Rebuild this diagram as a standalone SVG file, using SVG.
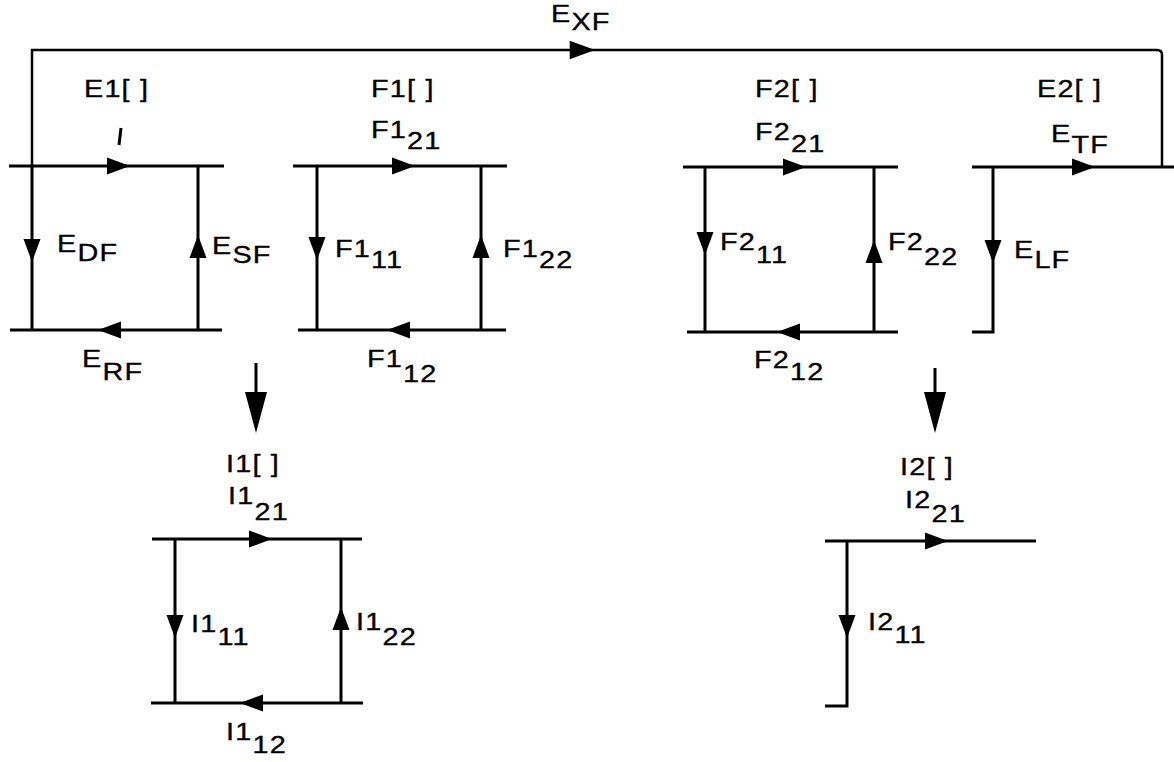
<svg xmlns="http://www.w3.org/2000/svg" xmlns:xlink="http://www.w3.org/1999/xlink" width="1174" height="762" viewBox="0 0 1174 762">
<style>
  .ln { fill: none; stroke: #000; stroke-width: 3; stroke-linecap: butt; stroke-linejoin: miter; }
  .lbl { font-family: "Liberation Sans", Arial, sans-serif; font-size: 24px; fill: #000; stroke: #000; stroke-width: 0.35; letter-spacing: 1px; }
  .ah { fill: #000; }
</style>
<defs>
  <path id="ah" d="M0,0 L-23,-8.5 L-23,8.5 Z"/>
  <path id="ahb" d="M0,0 L-41,-11 L-41,11 Z"/>
</defs>
<rect width="1174" height="762" fill="#fff"/>

<g id="connectors">
  <path class="ln" style="stroke-width:2.5" d="M32,166 V50 H1157 Q1162,50 1162,55 V167"/>
  <use href="#ah" class="ah" transform="translate(595,50) scale(1.1)"/>
  <path class="ln" d="M256,363 V395"/>
  <use href="#ahb" class="ah" transform="translate(256,433) rotate(90)"/>
  <path class="ln" d="M935,368 V395"/>
  <use href="#ahb" class="ah" transform="translate(935,433) rotate(90)"/>
</g>

<g id="EXF">
  <text class="lbl" transform="translate(551,22) scale(1.2,1)">E<tspan dy="8">XF</tspan></text>
</g>

<g id="E1">
  <path class="ln" d="M9,166 H224 M32,166 V330 M198,166 V330 M10,330 H222"/>
  <path class="ln" d="M121,128 L119,145"/>
  <use href="#ah" class="ah" transform="translate(130,166)"/>
  <use href="#ah" class="ah" transform="translate(32,262) rotate(90)"/>
  <use href="#ah" class="ah" transform="translate(198,235) rotate(-90)"/>
  <use href="#ah" class="ah" transform="translate(98,330) rotate(180)"/>
  <text class="lbl" transform="translate(84,97) scale(1.2,1)">E1[ ]</text>
  <text class="lbl" transform="translate(57,252) scale(1.2,1)">E<tspan dy="9">DF</tspan></text>
  <text class="lbl" transform="translate(212,254) scale(1.2,1)">E<tspan dy="9">SF</tspan></text>
  <text class="lbl" transform="translate(82,367) scale(1.2,1)">E<tspan dy="13">RF</tspan></text>
</g>

<g id="F1">
  <path class="ln" d="M293,166 H507 M317,166 V330 M481,166 V330 M298,330 H506"/>
  <use href="#ah" class="ah" transform="translate(415,166)"/>
  <use href="#ah" class="ah" transform="translate(317,260) rotate(90)"/>
  <use href="#ah" class="ah" transform="translate(481,235) rotate(-90)"/>
  <use href="#ah" class="ah" transform="translate(387,330) rotate(180)"/>
  <text class="lbl" transform="translate(371,97) scale(1.2,1)">F1[ ]</text>
  <text class="lbl" transform="translate(371,138) scale(1.2,1)">F1<tspan dy="11">21</tspan></text>
  <text class="lbl" transform="translate(335,257) scale(1.2,1)">F1<tspan dy="11">11</tspan></text>
  <text class="lbl" transform="translate(503,257) scale(1.2,1)">F1<tspan dy="11">22</tspan></text>
  <text class="lbl" transform="translate(367,367) scale(1.2,1)">F1<tspan dy="15">12</tspan></text>
</g>

<g id="F2">
  <path class="ln" d="M683,167 H898 M705,167 V332 M874,167 V332 M687,332 H898"/>
  <use href="#ah" class="ah" transform="translate(806,167)"/>
  <use href="#ah" class="ah" transform="translate(705,255) rotate(90)"/>
  <use href="#ah" class="ah" transform="translate(874,240) rotate(-90)"/>
  <use href="#ah" class="ah" transform="translate(777,332) rotate(180)"/>
  <text class="lbl" transform="translate(755,97) scale(1.2,1)">F2[ ]</text>
  <text class="lbl" transform="translate(755,140) scale(1.2,1)">F2<tspan dy="12">21</tspan></text>
  <text class="lbl" transform="translate(720,250) scale(1.2,1)">F2<tspan dy="13">11</tspan></text>
  <text class="lbl" transform="translate(888,250) scale(1.2,1)">F2<tspan dy="15">22</tspan></text>
  <text class="lbl" transform="translate(754,368) scale(1.2,1)">F2<tspan dy="12">12</tspan></text>
</g>

<g id="E2">
  <path class="ln" d="M972,167 H1174 M993,167 V332 H972"/>
  <use href="#ah" class="ah" transform="translate(1095,167)"/>
  <use href="#ah" class="ah" transform="translate(993,263) rotate(90)"/>
  <text class="lbl" transform="translate(1037,97) scale(1.2,1)">E2[ ]</text>
  <text class="lbl" transform="translate(1051,142) scale(1.2,1)">E<tspan dy="11">TF</tspan></text>
  <text class="lbl" transform="translate(1014,258) scale(1.2,1)">E<tspan dy="10">LF</tspan></text>
</g>

<g id="I1">
  <path class="ln" d="M152,539 H362 M175,539 V703 M341,539 V703 M151,703 H363"/>
  <use href="#ah" class="ah" transform="translate(272,539)"/>
  <use href="#ah" class="ah" transform="translate(175,638) rotate(90)"/>
  <use href="#ah" class="ah" transform="translate(341,607) rotate(-90)"/>
  <use href="#ah" class="ah" transform="translate(240,703) rotate(180)"/>
  <text class="lbl" transform="translate(226,472) scale(1.2,1)">I1[ ]</text>
  <text class="lbl" transform="translate(228,504) scale(1.2,1)">I1<tspan dy="16">21</tspan></text>
  <text class="lbl" transform="translate(191,632) scale(1.2,1)">I1<tspan dy="13">11</tspan></text>
  <text class="lbl" transform="translate(356,630) scale(1.2,1)">I1<tspan dy="15">22</tspan></text>
  <text class="lbl" transform="translate(226,740) scale(1.2,1)">I1<tspan dy="13">12</tspan></text>
</g>

<g id="I2">
  <path class="ln" d="M825,541 H1036 M847,541 V706 H825"/>
  <use href="#ah" class="ah" transform="translate(948,541)"/>
  <use href="#ah" class="ah" transform="translate(847,638) rotate(90)"/>
  <text class="lbl" transform="translate(900,475) scale(1.2,1)">I2[ ]</text>
  <text class="lbl" transform="translate(905,508) scale(1.2,1)">I2<tspan dy="14">21</tspan></text>
  <text class="lbl" transform="translate(868,630) scale(1.2,1)">I2<tspan dy="13">11</tspan></text>
</g>
</svg>
